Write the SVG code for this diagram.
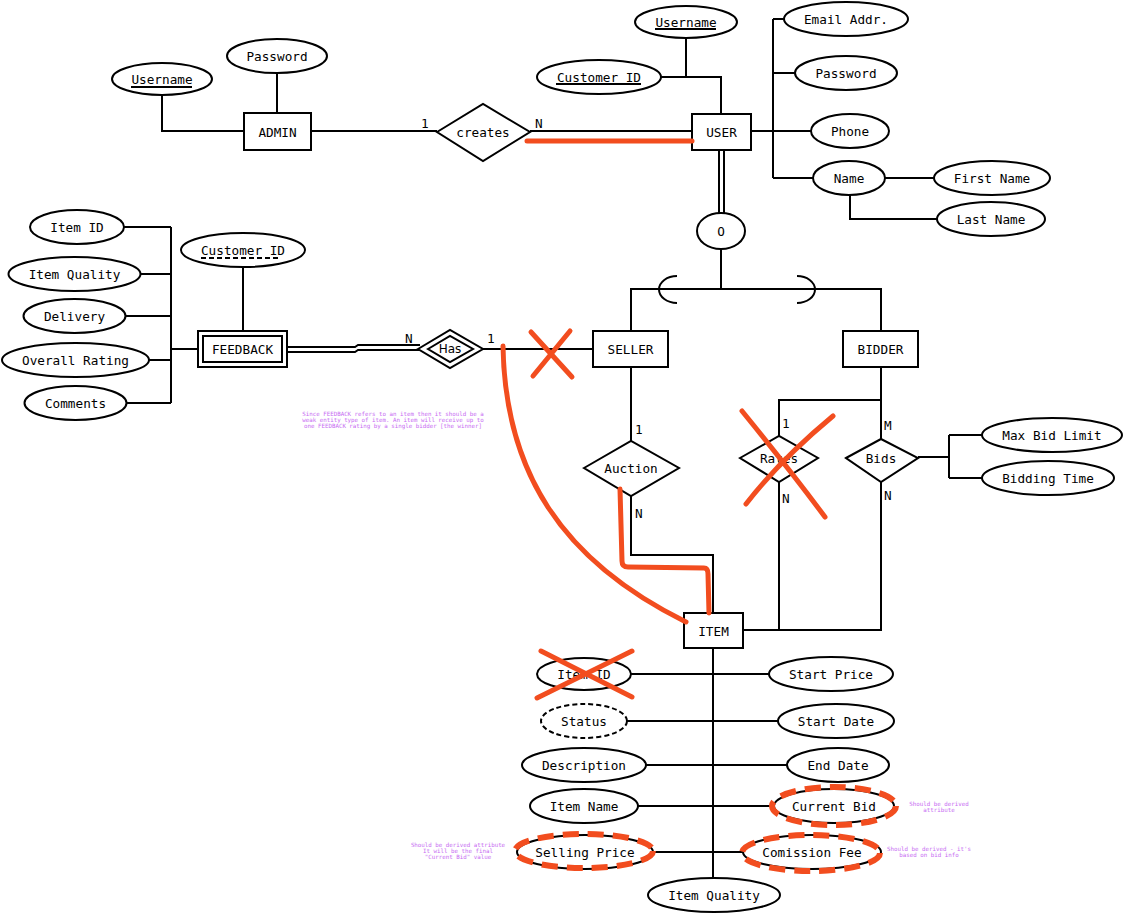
<svg xmlns="http://www.w3.org/2000/svg" width="1125" height="916" viewBox="0 0 1125 916">
<style>
.e{fill:#fff;stroke:#000;stroke-width:2}
.c{fill:none;stroke:#000;stroke-width:2}
.t{font-family:"DejaVu Sans Mono","Liberation Mono",monospace;font-size:12.7px;text-anchor:middle;dominant-baseline:central;fill:#000}
.l{font-family:"DejaVu Sans Mono","Liberation Mono",monospace;font-size:12.7px;fill:#000}
.u{stroke:#000;stroke-width:2}
.red{stroke:#f24d1f;stroke-width:5;fill:none;stroke-linecap:round;stroke-linejoin:round}
.rd{stroke:#f24d1f;stroke-width:6;fill:none;stroke-dasharray:16 9}
.note{font-family:"DejaVu Sans Mono","Liberation Mono",monospace;font-size:5.8px;fill:#c76cf2;text-anchor:middle}
</style>
<rect width="1125" height="916" fill="#fff"/>
<g id="connectors">
<path class="c" d="M277,73V113"/>
<path class="c" d="M162,95V131H244"/>
<path class="c" d="M311,131H437"/>
<path class="c" d="M530,131H692"/>
<path class="c" d="M686,38V77"/>
<path class="c" d="M661,77H721V114"/>
<path class="c" d="M751,131H811"/>
<path class="c" d="M773,19V178"/>
<path class="c" d="M773,19H784M773,73H795M773,178H813"/>
<path class="c" d="M885,178H934"/>
<path class="c" d="M850,195V219H937"/>
<path class="c" d="M719,150V213M724,150V213"/>
<path class="c" d="M721,249V289"/>
<path class="c" d="M631,331V289H881V331"/>
<path class="c" d="M677,276A18,13.5 0 0 0 677,303"/>
<path class="c" d="M797,276A18,13.5 0 0 1 797,303"/>
<path class="c" d="M171,227V403"/>
<path class="c" d="M124,227H171M140,274H171M125,316H171M149,360H171M126,403H171M171,349H198"/>
<path class="c" d="M243,267V331"/>
<path class="c" d="M288,347H355L358,345H420M288,352H355L358,350H420"/>
<path class="c" d="M483,349H593"/>
<path class="c" d="M631,367V441"/>
<path class="c" d="M631,496V555H713V613"/>
<path class="c" d="M881,367V439"/>
<path class="c" d="M881,482V630H743"/>
<path class="c" d="M779,436V400H881"/>
<path class="c" d="M779,482V630"/>
<path class="c" d="M918,457H949M949,435V478M949,435H983M949,478H982"/>
<path class="c" d="M713,648V879"/>
<path class="c" d="M631,674H770M627,721H778M646,765H787M638,806H775M653,852H743"/>
</g>
<g id="cardinalities">
<text class="l" x="421" y="128">1</text>
<text class="l" x="535" y="128">N</text>
<text class="l" x="405" y="343">N</text>
<text class="l" x="487" y="343">1</text>
<text class="l" x="635" y="434">1</text>
<text class="l" x="635" y="518">N</text>
<text class="l" x="782" y="428">1</text>
<text class="l" x="782" y="503">N</text>
<text class="l" x="884" y="430">M</text>
<text class="l" x="884" y="500">N</text>
</g>
<g id="admin"><rect class="e" x="244" y="113" width="67" height="37"/><text class="t" x="277.5" y="132">ADMIN</text></g>
<g id="admin-password"><ellipse class="e" cx="277" cy="56" rx="50" ry="17"/><text class="t" x="277" y="56">Password</text></g>
<g id="admin-username"><ellipse class="e" cx="162" cy="79" rx="50" ry="16"/><text class="t" x="162" y="79">Username</text><line class="u" x1="131" y1="87" x2="192" y2="87"/></g>
<g id="creates"><polygon class="e" points="437,132 483,104 530,132 483,161"/><text class="t" x="483" y="132">creates</text></g>
<g id="user"><rect class="e" x="692" y="114" width="59" height="36"/><text class="t" x="721.5" y="132">USER</text></g>
<g id="user-username"><ellipse class="e" cx="686" cy="22" rx="51" ry="16"/><text class="t" x="686" y="22">Username</text><line class="u" x1="655" y1="29" x2="716" y2="29"/></g>
<g id="user-customer-id"><ellipse class="e" cx="599" cy="77" rx="62" ry="17"/><text class="t" x="599" y="77">Customer ID</text><line class="u" x1="556" y1="84" x2="641" y2="84"/></g>
<g id="email"><ellipse class="e" cx="846" cy="19" rx="62" ry="17"/><text class="t" x="846" y="19">Email Addr.</text></g>
<g id="user-password"><ellipse class="e" cx="846" cy="73" rx="51" ry="17"/><text class="t" x="846" y="73">Password</text></g>
<g id="phone"><ellipse class="e" cx="850" cy="131" rx="39" ry="17"/><text class="t" x="850" y="131">Phone</text></g>
<g id="name"><ellipse class="e" cx="849" cy="178" rx="36" ry="17"/><text class="t" x="849" y="178">Name</text></g>
<g id="first-name"><ellipse class="e" cx="992" cy="178" rx="58" ry="17"/><text class="t" x="992" y="178">First Name</text></g>
<g id="last-name"><ellipse class="e" cx="991" cy="219" rx="54" ry="17"/><text class="t" x="991" y="219">Last Name</text></g>
<g id="disjoint"><ellipse class="e" cx="721" cy="231" rx="24" ry="18"/><text class="t" x="721" y="231">O</text></g>
<g id="seller"><rect class="e" x="593" y="331" width="75" height="36"/><text class="t" x="630.5" y="349">SELLER</text></g>
<g id="bidder"><rect class="e" x="843" y="331" width="75" height="36"/><text class="t" x="880.5" y="349">BIDDER</text></g>
<g id="feedback"><rect class="e" x="198" y="331" width="89" height="36"/><rect class="c" x="203" y="336" width="79" height="26"/><text class="t" x="242.5" y="349">FEEDBACK</text></g>
<g id="fb-item-id"><ellipse class="e" cx="77" cy="227" rx="47" ry="17"/><text class="t" x="77" y="227">Item ID</text></g>
<g id="fb-item-quality"><ellipse class="e" cx="74.5" cy="274" rx="66" ry="17"/><text class="t" x="74.5" y="274">Item Quality</text></g>
<g id="fb-delivery"><ellipse class="e" cx="74.5" cy="316" rx="51" ry="17"/><text class="t" x="74.5" y="316">Delivery</text></g>
<g id="fb-overall-rating"><ellipse class="e" cx="75.5" cy="360" rx="73.5" ry="17"/><text class="t" x="75.5" y="360">Overall Rating</text></g>
<g id="fb-comments"><ellipse class="e" cx="75.5" cy="403" rx="51" ry="17"/><text class="t" x="75.5" y="403">Comments</text></g>
<g id="fb-customer-id"><ellipse class="e" cx="243" cy="250" rx="62" ry="17"/><text class="t" x="243" y="250">Customer ID</text><line class="u" x1="201" y1="258" x2="279" y2="258" stroke-dasharray="5 3"/></g>
<g id="has"><polygon class="e" points="418,349 450,330 483,349 450,368"/><polygon class="c" points="428,349 450,336 473,349 450,362"/><text class="t" x="450" y="349" style="font-family:'DejaVu Sans',sans-serif;font-size:12px">Has</text></g>
<g id="auction"><polygon class="e" points="584,468 631,441 679,468 631,496"/><text class="t" x="631" y="468">Auction</text></g>
<g id="rates"><polygon class="e" points="740,458 779,436 818,458 779,482"/><text class="t" x="779" y="458">Rates</text></g>
<g id="bids"><polygon class="e" points="846,458 881,439 918,458 881,482"/><text class="t" x="881" y="458">Bids</text></g>
<g id="max-bid-limit"><ellipse class="e" cx="1052" cy="435" rx="70" ry="17"/><text class="t" x="1052" y="435">Max Bid Limit</text></g>
<g id="bidding-time"><ellipse class="e" cx="1048" cy="478" rx="66" ry="17"/><text class="t" x="1048" y="478">Bidding Time</text></g>
<g id="item"><rect class="e" x="684" y="613" width="59" height="35"/><text class="t" x="713.5" y="631">ITEM</text></g>
<g id="item-id"><ellipse class="e" cx="584" cy="674" rx="47" ry="16"/><text class="t" x="584" y="674">Item ID</text></g>
<g id="status"><ellipse class="e" cx="584" cy="721" rx="43" ry="17" stroke-dasharray="5 3"/><text class="t" x="584" y="721">Status</text></g>
<g id="description"><ellipse class="e" cx="584" cy="765" rx="62" ry="17"/><text class="t" x="584" y="765">Description</text></g>
<g id="item-name"><ellipse class="e" cx="584" cy="806" rx="54" ry="17"/><text class="t" x="584" y="806">Item Name</text></g>
<g id="selling-price"><ellipse class="e" cx="585" cy="852" rx="68" ry="17"/><text class="t" x="585" y="852">Selling Price</text></g>
<g id="start-price"><ellipse class="e" cx="831" cy="674" rx="62" ry="17"/><text class="t" x="831" y="674">Start Price</text></g>
<g id="start-date"><ellipse class="e" cx="836" cy="721" rx="58" ry="17"/><text class="t" x="836" y="721">Start Date</text></g>
<g id="end-date"><ellipse class="e" cx="838" cy="765" rx="51" ry="17"/><text class="t" x="838" y="765">End Date</text></g>
<g id="current-bid"><ellipse class="e" cx="834" cy="806" rx="60" ry="17"/><text class="t" x="834" y="806">Current Bid</text></g>
<g id="comission-fee"><ellipse class="e" cx="812" cy="852" rx="69" ry="17"/><text class="t" x="812" y="852">Comission Fee</text></g>
<g id="item-quality"><ellipse class="e" cx="714" cy="895" rx="66" ry="17"/><text class="t" x="714" y="895">Item Quality</text></g>
<g id="annotations">
<path class="red" d="M527,141H692"/>
<path class="red" d="M531,332L572,377M570,331L533,376"/>
<path class="red" d="M503,346C505,470 560,560 686,622"/>
<path class="red" d="M620,489L622,561Q622,567 628,567L704,568Q708,568 708,574L709,613"/>
<path class="red" d="M742,411Q790,470 825,517M833,416Q780,460 746,504"/>
<path class="red" d="M541,651L632,697M632,651L537,698"/>
<ellipse class="rd" cx="834" cy="806" rx="62" ry="19"/>
<ellipse class="rd" cx="584" cy="851" rx="69" ry="17"/>
<ellipse class="rd" cx="811" cy="853" rx="69" ry="18"/>
<text class="note" x="393" y="416">Since FEEDBACK refers to an item then it should be a</text>
<text class="note" x="393" y="422">weak entity type of item. An item will receive up to</text>
<text class="note" x="393" y="428">one FEEDBACK rating by a single bidder [the winner]</text>
<text class="note" x="939" y="806">Should be derived</text>
<text class="note" x="939" y="812">attribute</text>
<text class="note" x="929" y="851">Should be derived - it's</text>
<text class="note" x="929" y="857">based on bid info</text>
<text class="note" x="458" y="847">Should be derived attribute</text>
<text class="note" x="458" y="853">It will be the final</text>
<text class="note" x="458" y="859">"Current Bid" value</text>
</g>
</svg>
